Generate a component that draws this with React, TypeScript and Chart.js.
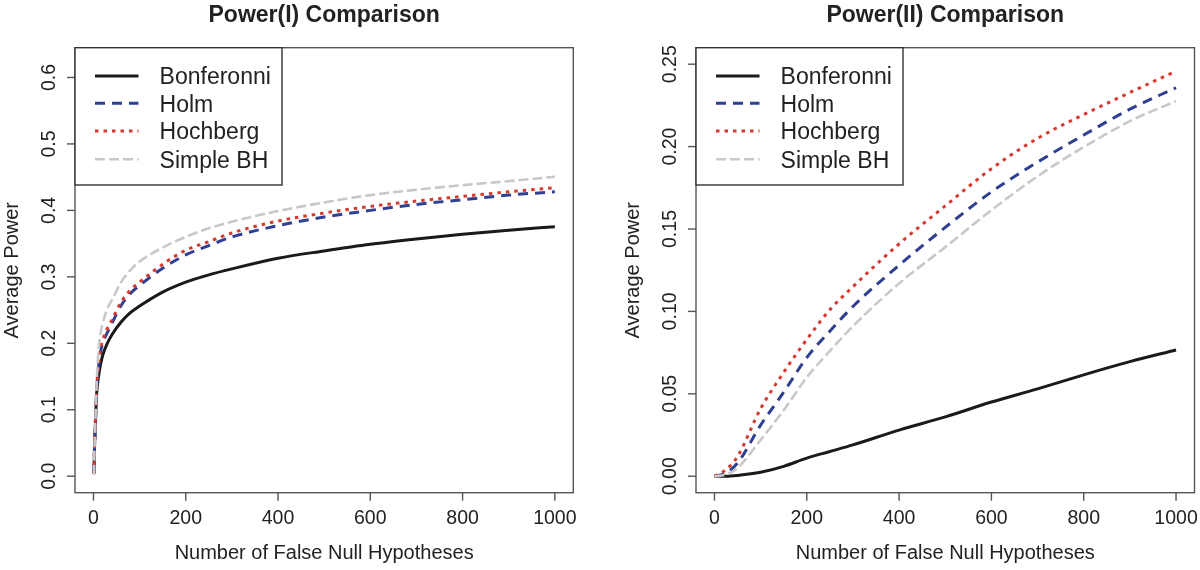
import React, { useEffect, useRef } from "react";
import { Chart, registerables } from "chart.js";

Chart.register(...registerables);

const FONT = '"Liberation Sans", Arial, Helvetica, sans-serif';

const methodNames = ["Bonferonni", "Holm", "Hochberg", "Simple BH"];
const lineColors = ["#1a1a1a", "#2f3f92", "#d63a2f", "#c8c8c8"];
const lineDashes: number[][] = [[], [10, 7], [3.5, 5], [10, 4]];
const lineWidths = [3, 3, 3, 2.6];

const xTicks = [0, 200, 400, 600, 800, 1000];
const xTickLabels = ["0", "200", "400", "600", "800", "1000"];
const xTitle = "Number of False Null Hypotheses";
const yTitle = "Average Power";

// ---- Power(I) ----
const power1Title = "Power(I) Comparison";
const power1N = [1, 2, 4, 7, 10, 15, 20, 30, 40, 60, 80, 100, 150, 200, 250, 300, 400, 500, 600, 700, 800, 900, 1000];
const power1Bonferroni = [0.004, 0.035, 0.075, 0.125, 0.145, 0.167, 0.182, 0.2, 0.213, 0.232, 0.246, 0.256, 0.277, 0.292, 0.303, 0.312, 0.328, 0.339, 0.349, 0.357, 0.364, 0.37, 0.3755];
const power1Holm = [0.004, 0.035, 0.077, 0.13, 0.157, 0.186, 0.2, 0.216, 0.23, 0.257, 0.275, 0.287, 0.313, 0.333, 0.347, 0.36, 0.377, 0.39, 0.4, 0.409, 0.416, 0.423, 0.428];
const power1Hochberg = [0.004, 0.035, 0.078, 0.132, 0.16, 0.19, 0.205, 0.222, 0.235, 0.262, 0.28, 0.292, 0.319, 0.34, 0.353, 0.366, 0.384, 0.396, 0.406, 0.414, 0.421, 0.428, 0.434];
const power1SimpleBH = [0.002, 0.035, 0.08, 0.14, 0.18, 0.213, 0.23, 0.252, 0.265, 0.292, 0.31, 0.323, 0.344, 0.36, 0.373, 0.383, 0.399, 0.412, 0.423, 0.431, 0.438, 0.444, 0.4505];
const power1YTicks = [0, 0.1, 0.2, 0.3, 0.4, 0.5, 0.6];
const power1YTickLabels = ["0.0", "0.1", "0.2", "0.3", "0.4", "0.5", "0.6"];

// ---- Power(II) ----
const power2Title = "Power(II) Comparison";
const power2N = [0, 25, 50, 100, 150, 200, 250, 300, 400, 500, 600, 700, 800, 900, 1000];
const power2Bonferroni = [0, 0, 0.0005, 0.0024, 0.006, 0.011, 0.015, 0.019, 0.028, 0.036, 0.045, 0.053, 0.0615, 0.0695, 0.0766];
const power2Holm = [0, 0.002, 0.008, 0.031, 0.051, 0.072, 0.088, 0.103, 0.128, 0.151, 0.1725, 0.1906, 0.207, 0.2227, 0.2357];
const power2Hochberg = [0, 0.004, 0.012, 0.041, 0.063, 0.083, 0.101, 0.115, 0.141, 0.164, 0.1866, 0.205, 0.2194, 0.2328, 0.2458];
const power2SimpleBH = [0, 0.001, 0.005, 0.022, 0.04, 0.06, 0.076, 0.091, 0.117, 0.139, 0.1614, 0.182, 0.1997, 0.2154, 0.2276];
const power2YTicks = [0, 0.05, 0.1, 0.15, 0.2, 0.25];
const power2YTickLabels = ["0.00", "0.05", "0.10", "0.15", "0.20", "0.25"];

type PanelProps = {
  title: string;
  n: number[];
  series: number[][];
  yMin: number;
  yMax: number;
  yTicks: number[];
  yTickLabels: string[];
  padding: { left: number; right: number; top: number; bottom: number };
};

function makeRPlugin(p: PanelProps) {
  return {
    id: "rstyle",
    afterDraw(chart: any) {
      const ctx: CanvasRenderingContext2D = chart.ctx;
      const a = chart.chartArea;
      const xs = chart.scales.x;
      const ys = chart.scales.y;
      const cx = (a.left + a.right) / 2;
      const cy = (a.top + a.bottom) / 2;
      ctx.save();
      ctx.setLineDash([]);
      // frame
      ctx.strokeStyle = "#555";
      ctx.lineWidth = 1.4;
      ctx.strokeRect(a.left, a.top, a.right - a.left, a.bottom - a.top);
      // x axis ticks
      ctx.fillStyle = "#222";
      ctx.font = `19.5px ${FONT}`;
      ctx.textAlign = "center";
      ctx.textBaseline = "alphabetic";
      xTicks.forEach((v, i) => {
        const px = xs.getPixelForValue(v);
        ctx.beginPath();
        ctx.moveTo(px, a.bottom);
        ctx.lineTo(px, a.bottom + 8);
        ctx.stroke();
        ctx.fillText(xTickLabels[i], px, a.bottom + 31.3);
      });
      // y axis ticks
      p.yTicks.forEach((v, i) => {
        const py = ys.getPixelForValue(v);
        ctx.beginPath();
        ctx.moveTo(a.left - 8, py);
        ctx.lineTo(a.left, py);
        ctx.stroke();
        ctx.save();
        ctx.translate(a.left - 20, py);
        ctx.rotate(-Math.PI / 2);
        ctx.fillText(p.yTickLabels[i], 0, 0);
        ctx.restore();
      });
      // axis titles
      ctx.font = `20px ${FONT}`;
      ctx.fillText(xTitle, cx, a.bottom + 66);
      ctx.save();
      ctx.translate(a.left - 57, cy);
      ctx.rotate(-Math.PI / 2);
      ctx.fillText(yTitle, 0, 0);
      ctx.restore();
      // main title
      ctx.font = `bold 23px ${FONT}`;
      ctx.fillText(p.title, cx, 21.5);
      // legend
      const lw = 207;
      const lh = 185 - a.top;
      ctx.fillStyle = "#fff";
      ctx.fillRect(a.left, a.top, lw, lh);
      ctx.strokeStyle = "#333";
      ctx.lineWidth = 1.4;
      ctx.strokeRect(a.left, a.top, lw, lh);
      const rows = [28.3, 55.6, 83.3, 111.6];
      ctx.font = `23px ${FONT}`;
      ctx.textAlign = "left";
      methodNames.forEach((name, i) => {
        const ry = a.top + rows[i];
        ctx.save();
        ctx.strokeStyle = lineColors[i];
        ctx.lineWidth = lineWidths[i];
        ctx.setLineDash(lineDashes[i]);
        ctx.lineCap = "butt";
        ctx.beginPath();
        ctx.moveTo(a.left + 20, ry);
        ctx.lineTo(a.left + 63.5, ry);
        ctx.stroke();
        ctx.restore();
        ctx.fillStyle = "#222";
        ctx.fillText(name, a.left + 84.6, ry + 8.3);
      });
      ctx.restore();
    },
  };
}

function Panel(p: PanelProps) {
  const ref = useRef<HTMLCanvasElement | null>(null);
  useEffect(() => {
    if (!ref.current) return;
    const chart = new Chart(ref.current, {
      type: "line",
      data: {
        datasets: p.series.map((vals, i) => ({
          label: methodNames[i],
          data: p.n.map((x, j) => ({ x, y: vals[j] })),
          borderColor: lineColors[i],
          borderWidth: lineWidths[i],
          borderDash: lineDashes[i],
          borderCapStyle: "butt",
          pointRadius: 0,
          fill: false,
          cubicInterpolationMode: "monotone",
          order: 3 - i,
        })),
      },
      options: {
        responsive: false,
        animation: false,
        devicePixelRatio: 1,
        events: [],
        layout: { padding: p.padding },
        plugins: {
          legend: { display: false },
          title: { display: false },
          tooltip: { enabled: false },
        },
        scales: {
          x: { type: "linear", min: -40, max: 1040, display: false },
          y: { type: "linear", min: p.yMin, max: p.yMax, display: false },
        },
      },
      plugins: [makeRPlugin(p)],
    } as any);
    return () => chart.destroy();
  }, []);
  return <canvas ref={ref} width={600} height={570} style={{ display: "block", width: 600, height: 570 }} />;
}

export default function App() {
  return (
    <div style={{ position: "absolute", left: 0, top: 0, width: 1200, height: 570, display: "flex", background: "#fff" }}>
      <Panel
        title={power1Title}
        n={power1N}
        series={[power1Bonferroni, power1Holm, power1Hochberg, power1SimpleBH]}
        yMin={-0.0248}
        yMax={0.6448}
        yTicks={power1YTicks}
        yTickLabels={power1YTickLabels}
        padding={{ left: 75, right: 26.7, top: 47.7, bottom: 77.3 }}
      />
      <Panel
        title={power2Title}
        n={power2N}
        series={[power2Bonferroni, power2Holm, power2Hochberg, power2SimpleBH]}
        yMin={-0.01}
        yMax={0.26}
        yTicks={power2YTicks}
        yTickLabels={power2YTickLabels}
        padding={{ left: 96, right: 5.5, top: 47.7, bottom: 77.3 }}
      />
    </div>
  );
}
